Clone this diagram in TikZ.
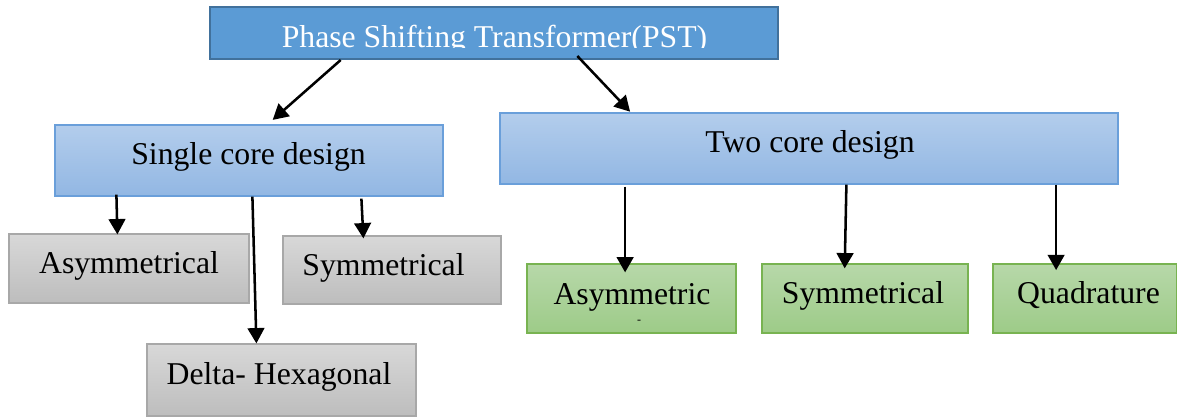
\documentclass[tikz,border=0pt]{standalone}
\usepackage{fontspec}
\setmainfont{Liberation Serif}
\usetikzlibrary{arrows.meta,calc,fit}
\definecolor{pstfill}{HTML}{5B9BD5}
\definecolor{pstedge}{HTML}{41719C}
\definecolor{bluetop}{HTML}{B3CDEC}
\definecolor{bluebot}{HTML}{92B7E3}
\definecolor{blueedge}{HTML}{6A9FDA}
\definecolor{graytop}{HTML}{D8D8D8}
\definecolor{graybot}{HTML}{BDBDBD}
\definecolor{grayedge}{HTML}{A8A8A8}
\definecolor{greentop}{HTML}{B7D8A9}
\definecolor{greenbot}{HTML}{9DCB88}
\definecolor{greenedge}{HTML}{78B351}
\begin{document}
\begin{tikzpicture}[x=0.75pt,y=-0.75pt,
  box/.style={rectangle,inner sep=0pt,line width=0.9pt},
  pstbox/.style={box,fill=pstfill,draw=pstedge,line width=1.5pt},
  bluebox/.style={box,draw=blueedge,top color=bluetop,bottom color=bluebot},
  graybox/.style={box,draw=grayedge,top color=graytop,bottom color=graybot},
  greenbox/.style={box,draw=greenedge,top color=greentop,bottom color=greenbot},
  lbl/.style={font=\fontsize{23.8}{28}\selectfont,anchor=base,inner sep=0pt},
  arr/.style={line width=1.9pt,-{Triangle[length=11.5pt,width=12.5pt]}}]
\useasboundingbox (0,0) rectangle (1177,417);

% boxes
\node[pstbox,fit={(210,7) (778,59)}] (pst) {};
\node[bluebox,fit={(55,125) (443,196)}] (sc) {};
\node[bluebox,fit={(500,113) (1118,184)}] (tc) {};
\node[graybox,fit={(9,234) (249,303)}] (ga) {};
\node[graybox,fit={(283,236) (501,304)}] (gs) {};
\node[graybox,fit={(147,344) (416,416)}] (gd) {};
\node[greenbox,fit={(527,264) (736,333)}] (ea) {};
\node[greenbox,fit={(762,264) (968,333)}] (es) {};
\node[greenbox,fit={(993,264) (1176.5,333)}] (eq) {};

% texts
\begin{scope}
  \clip (210,7) rectangle (778,48);
  \node[lbl,text=white] (pstt) at (494.5,47.5) {Phase Shifting Transformer(PST)};
\end{scope}
\node[lbl] (sct) at (248.5,165) {Single core design};
\node[lbl] (tct) at (810,153) {Two core design};
\node[lbl] (gat) at (129,273) {Asymmetrical};
\node[lbl] (gst) at (383.5,275) {Symmetrical};
\node[lbl] (gdt) at (279,384) {Delta- Hexagonal};
\node[lbl] (eat) at (632,304) {Asymmetric};
\node[anchor=center,inner sep=0pt,font=\fontsize{9}{9}\selectfont] (eam) at (639,322) {-};
\node[lbl] (est) at (863,303) {Symmetrical};
\node[lbl] (eqt) at (1088.5,303) {Quadrature};

% connectors
\draw[arr] ($(pst.south west)+(131.7,0)$) -- ($(sc.north west)+(218.3,-4.5)$);
\draw[arr] ($(pst.south west)+(368.3,-4)$) -- ($(tc.north west)+(130.7,-0.7)$);
\draw[arr] ($(sc.south west)+(62,-2)$) -- ($(ga.north west)+(109,1)$);
\draw[arr] ($(sc.south west)+(198,0)$) -- ($(gd.north west)+(110,0)$);
\draw[arr] ($(sc.south west)+(307,2)$) -- ($(gs.north west)+(81,3)$);
\draw[arr] ($(tc.south west)+(125.7,2)$) -- ($(ea.north west)+(98.7,9)$);
\draw[arr] ($(tc.south west)+(347,0)$) -- ($(es.north west)+(83.3,5)$);
\draw[arr] ($(tc.south west)+(556.7,0)$) -- ($(eq.north west)+(63.7,6.7)$);
\end{tikzpicture}
\end{document}
